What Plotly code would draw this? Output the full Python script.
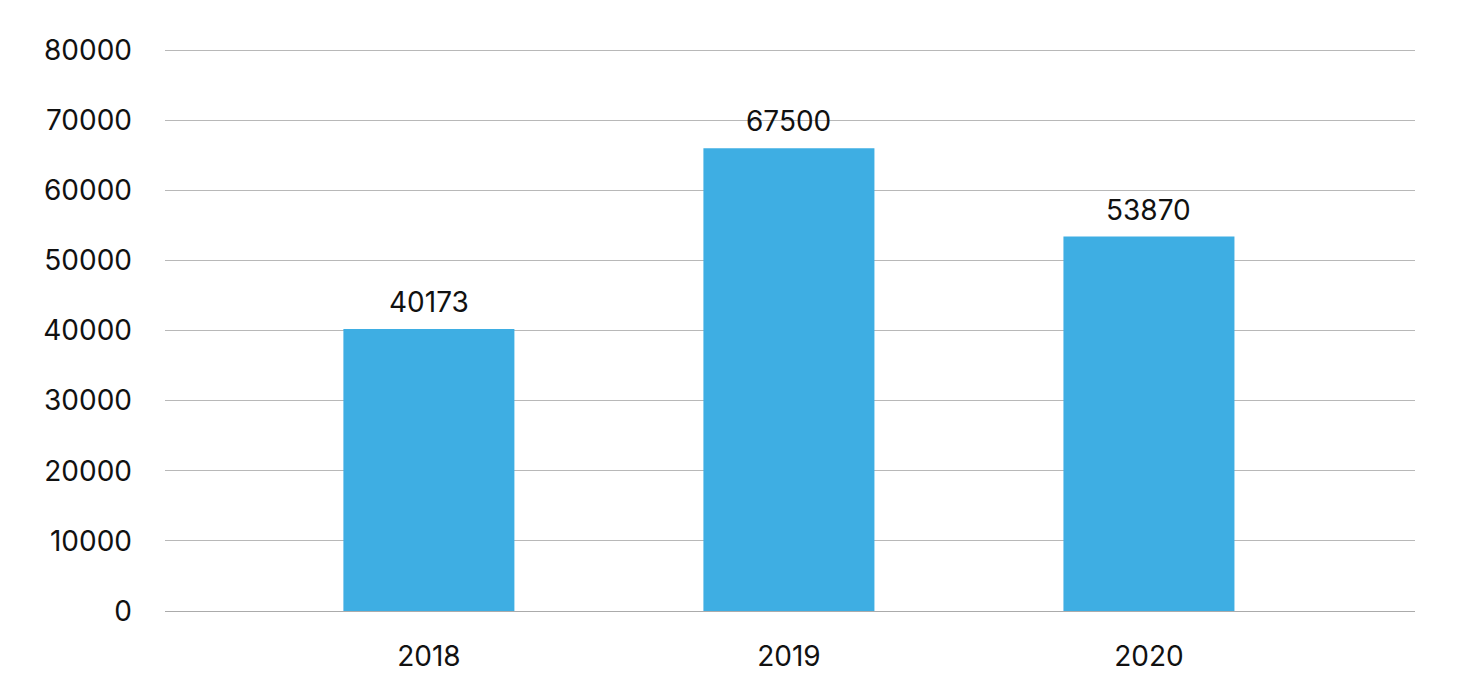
import plotly.graph_objects as go

# Data
years = ["2018", "2019", "2020"]
bar_heights = [40200, 66000, 53400]
bar_labels = ["40173", "67500", "53870"]
y_ticks = [0, 10000, 20000, 30000, 40000, 50000, 60000, 70000, 80000]

fig = go.Figure()
fig.add_trace(go.Bar(
    x=years, y=bar_heights,
    marker=dict(color="#3eaee3", line=dict(width=0)),
    width=0.475,
))

# value labels above the bars (category axis -> use the index as x)
for i, (h, lab) in enumerate(zip(bar_heights, bar_labels)):
    fig.add_annotation(x=i, y=h, text=lab, showarrow=False,
                       yanchor="middle", yshift=27,
                       font=dict(size=28, color="#111111"))

fig.update_layout(
    width=1460, height=700,
    margin=dict(l=157, r=53, t=41, b=97),
    paper_bgcolor="white", plot_bgcolor="white",
    font=dict(family="Inter", size=28, color="#111111"),
    showlegend=False,
    xaxis=dict(
        type="category", range=[-0.733, 2.739],
        showgrid=False, showline=True, linecolor="#ababab", linewidth=1,
        ticks="", ticklabelstandoff=20,
    ),
    yaxis=dict(
        range=[0, 80150], tickvals=y_ticks, tickformat="d",
        showgrid=True, gridcolor="#b8b8b8", gridwidth=1,
        zeroline=False, showline=False, ticks="", ticklabelstandoff=32,
    ),
)

fig.write_html("out.html")
